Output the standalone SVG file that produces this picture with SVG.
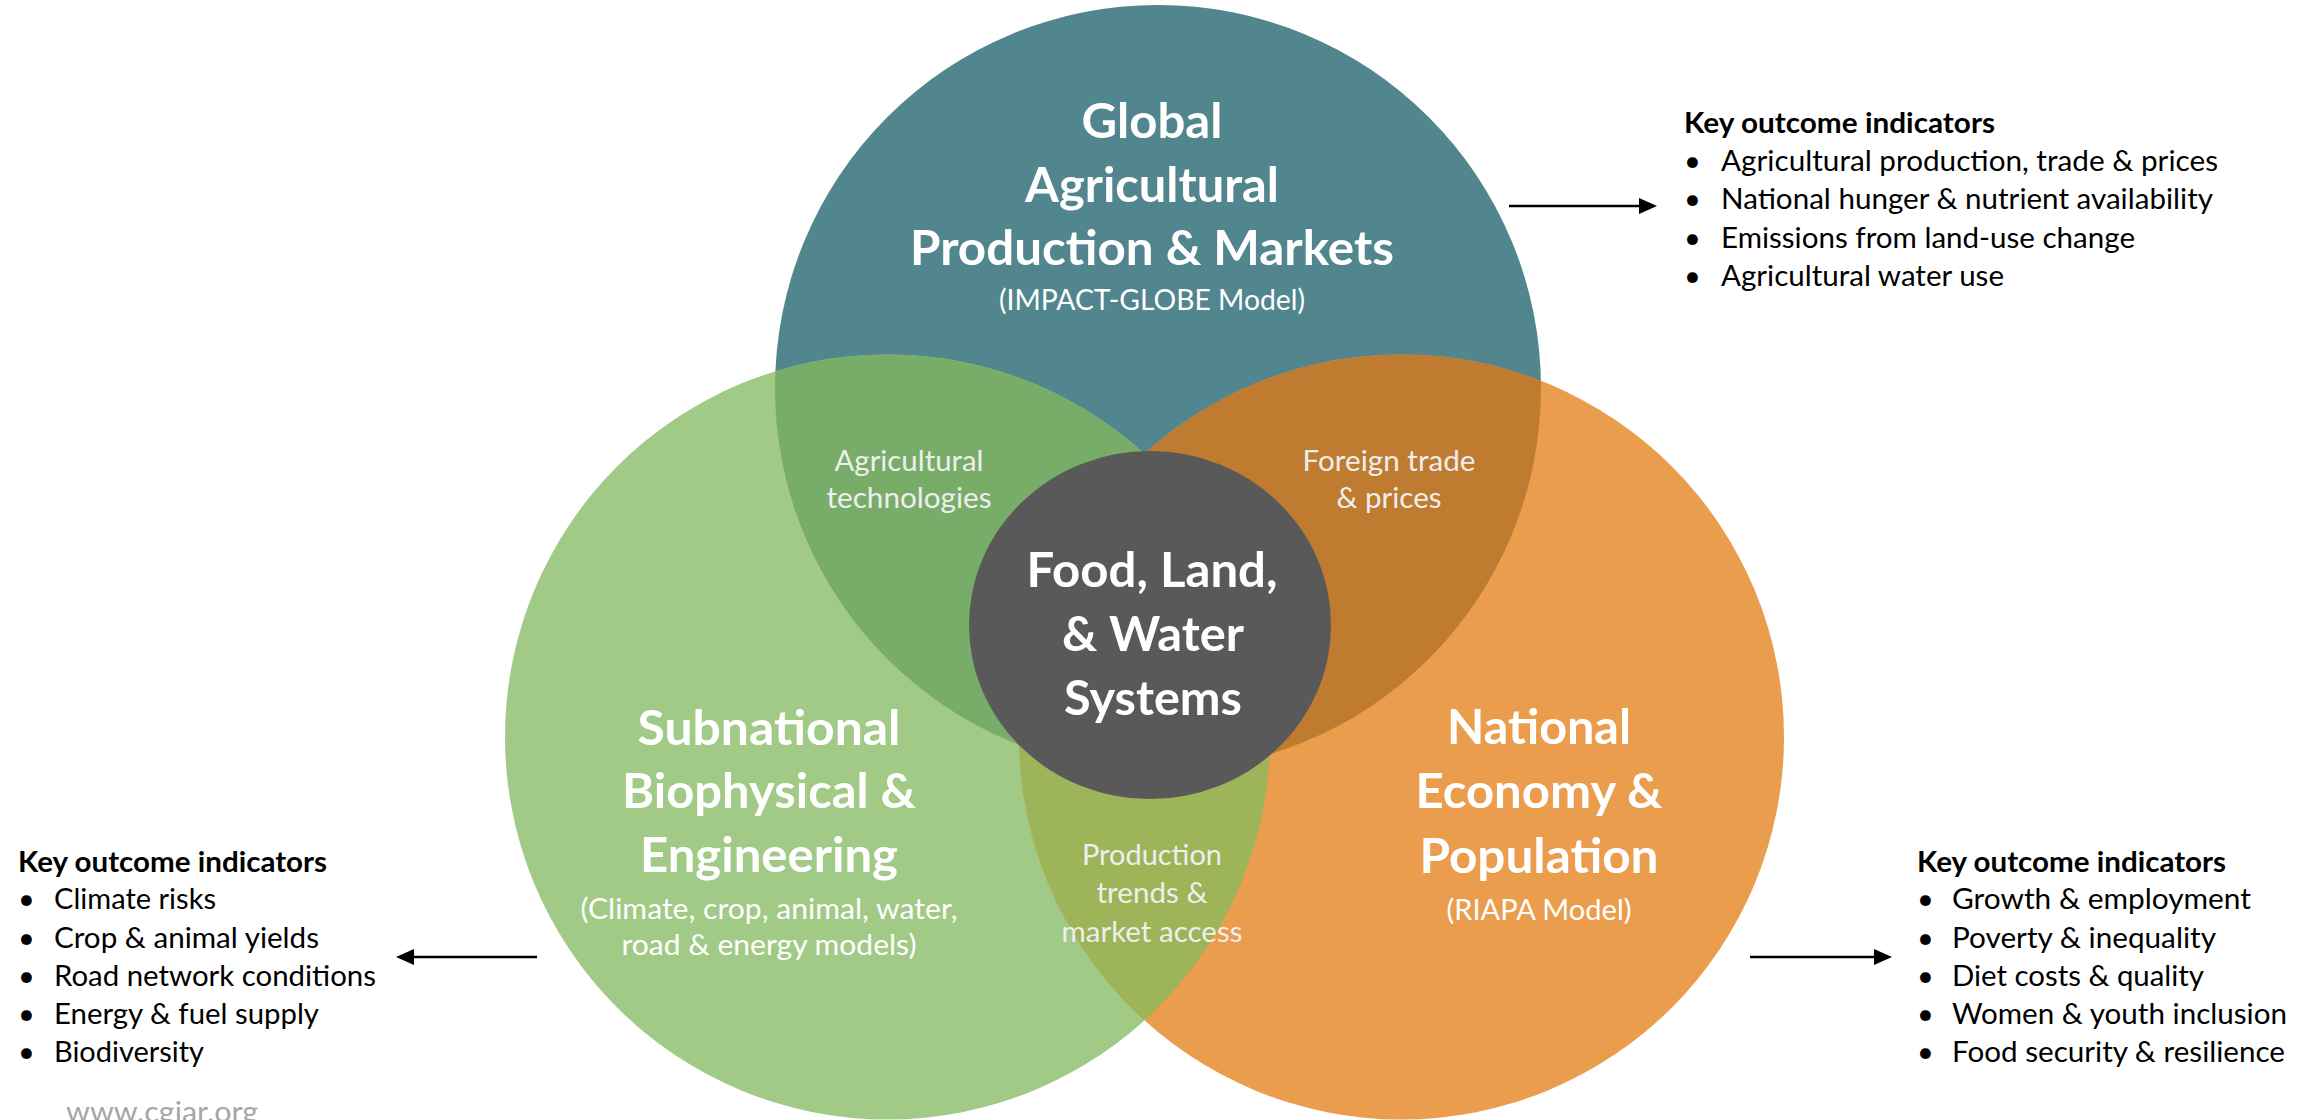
<svg xmlns="http://www.w3.org/2000/svg" width="2313" height="1120" viewBox="0 0 2313 1120">
<defs>
<style>
text{font-family:Lato,'Open Sans','Liberation Sans',sans-serif}
.title{font-size:48px;font-weight:700;fill:#fff;text-anchor:middle}
.sub{font-size:29px;fill:#fff;text-anchor:middle}
.ov{font-size:29px;fill:#EEEEEE;text-anchor:middle}
.kh{font-size:29px;font-weight:700;fill:#000}
.ki{font-size:29px;fill:#000}
.www{font-size:29px;fill:#A6A6A6}
.arrow{stroke:#000;stroke-width:2.5;fill:none;marker-end:url(#ah)}
</style>
<marker id="ah" markerUnits="userSpaceOnUse" markerWidth="18" markerHeight="16" refX="14" refY="8" orient="auto">
<path d="M0,0 L18,8 L0,16 z" fill="#000"/>
</marker>
<clipPath id="clipTeal"><circle cx="1158" cy="388" r="383"/></clipPath>
<clipPath id="clipOrange"><circle cx="1401.5" cy="737" r="382.5"/></clipPath>
</defs>
<rect width="2313" height="1120" fill="#fff"/>

<g id="node-global">
<circle cx="1158" cy="388" r="383" fill="#52868F"/>
</g>
<g id="node-subnational">
<circle cx="887.5" cy="737" r="382.5" fill="#A2CA87"/>
</g>
<g id="node-national">
<circle cx="1401.5" cy="737" r="382.5" fill="#EB9D4E"/>
</g>
<g id="overlaps">
<circle cx="887.5" cy="737" r="382.5" fill="#78AD69" clip-path="url(#clipTeal)"/>
<circle cx="1401.5" cy="737" r="382.5" fill="#BF7C31" clip-path="url(#clipTeal)"/>
<circle cx="887.5" cy="737" r="382.5" fill="#9EB459" clip-path="url(#clipOrange)"/>
</g>
<g id="node-center">
<ellipse cx="1150" cy="625" rx="181" ry="174" fill="#595959"/>
<text class="title" x="1152" y="587" textLength="251" lengthAdjust="spacingAndGlyphs">Food, Land,</text>
<text class="title" x="1153" y="651" textLength="182" lengthAdjust="spacingAndGlyphs">&amp; Water</text>
<text class="title" x="1153" y="715" textLength="178" lengthAdjust="spacingAndGlyphs">Systems</text>
</g>

<g id="label-global">
<text class="title" x="1152" y="138" textLength="141" lengthAdjust="spacingAndGlyphs">Global</text>
<text class="title" x="1152" y="202" textLength="254" lengthAdjust="spacingAndGlyphs">Agricultural</text>
<text class="title" x="1152" y="265" textLength="484" lengthAdjust="spacingAndGlyphs">Production &amp; Markets</text>
<text class="sub" x="1152" y="310" textLength="306" lengthAdjust="spacingAndGlyphs">(IMPACT-GLOBE Model)</text>
</g>
<g id="label-subnational">
<text class="title" x="769" y="745" textLength="263" lengthAdjust="spacingAndGlyphs">Subnational</text>
<text class="title" x="769" y="808" textLength="294" lengthAdjust="spacingAndGlyphs">Biophysical &amp;</text>
<text class="title" x="769" y="872" textLength="258" lengthAdjust="spacingAndGlyphs">Engineering</text>
<text class="sub" x="769" y="919" textLength="377" lengthAdjust="spacingAndGlyphs">(Climate, crop, animal, water,</text>
<text class="sub" x="769" y="955" textLength="295" lengthAdjust="spacingAndGlyphs">road &amp; energy models)</text>
</g>
<g id="label-national">
<text class="title" x="1539" y="744" textLength="184" lengthAdjust="spacingAndGlyphs">National</text>
<text class="title" x="1539" y="808" textLength="247" lengthAdjust="spacingAndGlyphs">Economy &amp;</text>
<text class="title" x="1539" y="873" textLength="239" lengthAdjust="spacingAndGlyphs">Population</text>
<text class="sub" x="1539" y="920" textLength="185" lengthAdjust="spacingAndGlyphs">(RIAPA Model)</text>
</g>
<g id="label-overlaps">
<text class="ov" x="909" y="471" textLength="149" lengthAdjust="spacingAndGlyphs">Agricultural</text>
<text class="ov" x="909" y="508" textLength="165" lengthAdjust="spacingAndGlyphs">technologies</text>
<text class="ov" x="1389" y="471" textLength="173" lengthAdjust="spacingAndGlyphs">Foreign trade</text>
<text class="ov" x="1389" y="508" textLength="105" lengthAdjust="spacingAndGlyphs">&amp; prices</text>
<text class="ov" x="1152" y="865" textLength="140" lengthAdjust="spacingAndGlyphs">Production</text>
<text class="ov" x="1152" y="903" textLength="111" lengthAdjust="spacingAndGlyphs">trends &amp;</text>
<text class="ov" x="1152" y="942" textLength="181" lengthAdjust="spacingAndGlyphs">market access</text>
</g>

<g id="indicators-global">
<text class="kh" x="1684" y="133" textLength="311" lengthAdjust="spacingAndGlyphs">Key outcome indicators</text>
<text class="ki" x="1684" y="171">•</text>
<text class="ki" x="1721" y="171" textLength="497" lengthAdjust="spacingAndGlyphs">Agricultural production, trade &amp; prices</text>
<text class="ki" x="1684" y="209">•</text>
<text class="ki" x="1721" y="209" textLength="492" lengthAdjust="spacingAndGlyphs">National hunger &amp; nutrient availability</text>
<text class="ki" x="1684" y="248">•</text>
<text class="ki" x="1721" y="248" textLength="414" lengthAdjust="spacingAndGlyphs">Emissions from land-use change</text>
<text class="ki" x="1684" y="286">•</text>
<text class="ki" x="1721" y="286" textLength="283" lengthAdjust="spacingAndGlyphs">Agricultural water use</text>
</g>
<g id="indicators-subnational">
<text class="kh" x="18" y="872" textLength="309" lengthAdjust="spacingAndGlyphs">Key outcome indicators</text>
<text class="ki" x="18" y="909">•</text>
<text class="ki" x="54" y="909" textLength="162" lengthAdjust="spacingAndGlyphs">Climate risks</text>
<text class="ki" x="18" y="948">•</text>
<text class="ki" x="54" y="948" textLength="265" lengthAdjust="spacingAndGlyphs">Crop &amp; animal yields</text>
<text class="ki" x="18" y="986">•</text>
<text class="ki" x="54" y="986" textLength="322" lengthAdjust="spacingAndGlyphs">Road network conditions</text>
<text class="ki" x="18" y="1024">•</text>
<text class="ki" x="54" y="1024" textLength="265" lengthAdjust="spacingAndGlyphs">Energy &amp; fuel supply</text>
<text class="ki" x="18" y="1062">•</text>
<text class="ki" x="54" y="1062" textLength="150" lengthAdjust="spacingAndGlyphs">Biodiversity</text>
</g>
<g id="indicators-national">
<text class="kh" x="1917" y="872" textLength="309" lengthAdjust="spacingAndGlyphs">Key outcome indicators</text>
<text class="ki" x="1917" y="909">•</text>
<text class="ki" x="1952" y="909" textLength="299" lengthAdjust="spacingAndGlyphs">Growth &amp; employment</text>
<text class="ki" x="1917" y="948">•</text>
<text class="ki" x="1952" y="948" textLength="264" lengthAdjust="spacingAndGlyphs">Poverty &amp; inequality</text>
<text class="ki" x="1917" y="986">•</text>
<text class="ki" x="1952" y="986" textLength="252" lengthAdjust="spacingAndGlyphs">Diet costs &amp; quality</text>
<text class="ki" x="1917" y="1024">•</text>
<text class="ki" x="1952" y="1024" textLength="335" lengthAdjust="spacingAndGlyphs">Women &amp; youth inclusion</text>
<text class="ki" x="1917" y="1062">•</text>
<text class="ki" x="1952" y="1062" textLength="333" lengthAdjust="spacingAndGlyphs">Food security &amp; resilience</text>
</g>

<g id="connectors">
<line class="arrow" x1="1509" y1="206" x2="1653" y2="206"/>
<line class="arrow" x1="537" y1="957" x2="400" y2="957"/>
<line class="arrow" x1="1750" y1="957" x2="1888" y2="957"/>
</g>

<text class="www" x="66" y="1122" textLength="192" lengthAdjust="spacingAndGlyphs">www.cgiar.org</text>
</svg>
